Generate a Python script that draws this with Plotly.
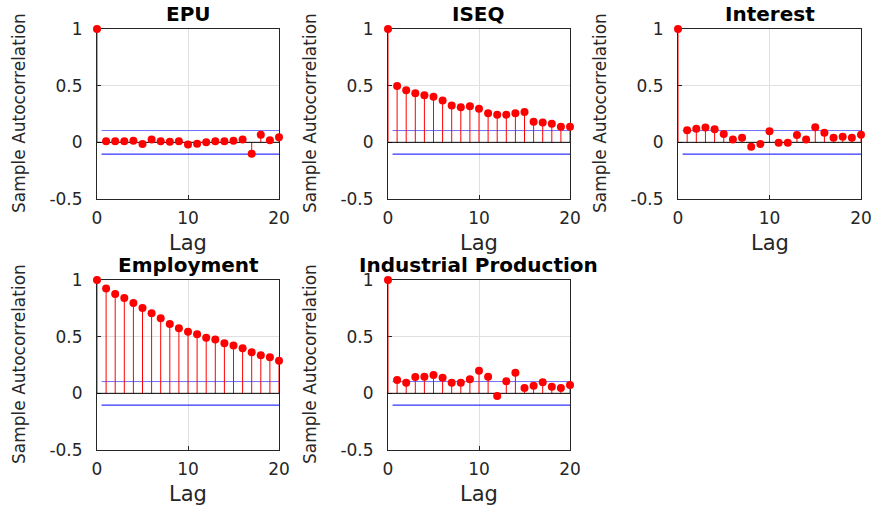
import plotly.graph_objects as go

lags = list(range(21))
titles = ["EPU", "ISEQ", "Interest", "Employment", "Industrial Production"]
epu = [1.0, 0.01, 0.01, 0.01, 0.015, -0.015, 0.025, 0.01, 0.005, 0.01, -0.02,
       -0.012, 0.0, 0.01, 0.01, 0.015, 0.025, -0.1, 0.068, 0.018, 0.045]
iseq = [1.0, 0.497, 0.459, 0.432, 0.415, 0.403, 0.37, 0.326, 0.309, 0.318, 0.297,
        0.256, 0.244, 0.244, 0.256, 0.268, 0.182, 0.176, 0.165, 0.138, 0.138]
interest = [1.0, 0.106, 0.12, 0.13, 0.115, 0.074, 0.026, 0.041, -0.038, -0.015, 0.097,
            -0.003, -0.003, 0.065, 0.024, 0.132, 0.085, 0.041, 0.05, 0.041, 0.068]
employment = [1.0, 0.924, 0.876, 0.841, 0.797, 0.753, 0.706, 0.662, 0.612, 0.574, 0.544,
              0.521, 0.491, 0.476, 0.441, 0.421, 0.397, 0.362, 0.335, 0.318, 0.288]
indprod = [1.0, 0.118, 0.094, 0.144, 0.147, 0.162, 0.138, 0.094, 0.094, 0.124, 0.2,
           0.147, -0.024, 0.106, 0.182, 0.047, 0.068, 0.097, 0.059, 0.047, 0.074]
bounds = [0.104, 0.104, 0.104, 0.104, 0.104]
xticks = [0, 10, 20]
yticks = [-0.5, 0, 0.5, 1]
ytick_text = ["-0.5", "0", "0.5", "1"]

series = [epu, iseq, interest, employment, indprod]

W, H = 877, 509
# panel boxes in pixels (left, right, top, bottom)
cols = [(97, 279), (388, 570), (678, 861)]
rows = [(29, 199), (280, 450)]
boxes = [(cols[0], rows[0]), (cols[1], rows[0]), (cols[2], rows[0]),
         (cols[0], rows[1]), (cols[1], rows[1])]

FONT = "DejaVu Sans"
fig = go.Figure()
annotations = []
layout = {}

for i, (vals, title, b) in enumerate(zip(series, titles, bounds)):
    n = "" if i == 0 else str(i + 1)
    xr, yr = "x" + n, "y" + n
    (l, r), (t, btm) = boxes[i]
    # bounds
    fig.add_trace(go.Scatter(x=[0.5, 20], y=[b, b], mode="lines",
                             line=dict(color="rgb(110,110,255)", width=1),
                             xaxis=xr, yaxis=yr, showlegend=False, hoverinfo="skip"))
    fig.add_trace(go.Scatter(x=[0.5, 20], y=[-b, -b], mode="lines",
                             line=dict(color="rgb(0,0,255)", width=1),
                             xaxis=xr, yaxis=yr, showlegend=False, hoverinfo="skip"))
    # stems
    sx, sy = [], []
    for lg, v in zip(lags, vals):
        sx += [lg, lg, None]
        sy += [0, v, None]
    fig.add_trace(go.Scatter(x=sx, y=sy, mode="lines",
                             line=dict(color="#ff0000", width=1),
                             xaxis=xr, yaxis=yr, showlegend=False, hoverinfo="skip"))
    # zero line
    fig.add_trace(go.Scatter(x=[0, 20], y=[0, 0], mode="lines",
                             line=dict(color="black", width=1),
                             xaxis=xr, yaxis=yr, showlegend=False, hoverinfo="skip"))
    # markers
    fig.add_trace(go.Scatter(x=lags, y=vals, mode="markers", cliponaxis=False,
                             marker=dict(color="#ff0000", size=8, line=dict(width=0)),
                             xaxis=xr, yaxis=yr, showlegend=False))

    axcommon = dict(showline=True, mirror=True, linecolor="#262626", linewidth=1,
                    ticks="inside", ticklen=4, tickcolor="#262626",
                    showgrid=True, gridcolor="#e0e0e0", gridwidth=1,
                    zeroline=False, layer="below traces", automargin=False,
                    tickfont=dict(family=FONT, size=17, color="#262626"))
    layout["xaxis" + n] = dict(axcommon, domain=[l / W, r / W], range=[0, 20],
                               tickvals=xticks, anchor=yr, ticklabelstandoff=4)
    layout["yaxis" + n] = dict(axcommon, domain=[1 - btm / H, 1 - t / H], range=[-0.5, 1],
                               tickvals=yticks, ticktext=ytick_text, anchor=xr,
                               ticklabelstandoff=10)
    cx = (l + r) / 2
    annotations.append(dict(text="<b>%s</b>" % title, x=cx / W, y=1 - (t - 15) / H,
                            xref="paper", yref="paper", xanchor="center", yanchor="middle",
                            showarrow=False, font=dict(family=FONT, size=20, color="black")))
    annotations.append(dict(text="Lag", x=cx / W, y=1 - (btm + 44) / H,
                            xref="paper", yref="paper", xanchor="center", yanchor="middle",
                            showarrow=False, font=dict(family=FONT, size=21, color="#262626")))
    annotations.append(dict(text="Sample Autocorrelation", x=(l - 78) / W, y=1 - ((t + btm) / 2 - 1) / H,
                            xref="paper", yref="paper", xanchor="center", yanchor="middle",
                            textangle=-90, showarrow=False,
                            font=dict(family=FONT, size=17, color="#262626")))

fig.update_layout(width=W, height=H, margin=dict(l=0, r=0, t=0, b=0, autoexpand=False),
                  paper_bgcolor="white", plot_bgcolor="white",
                  annotations=annotations, showlegend=False, **layout)
fig.write_html("out.html", config={"displayModeBar": False},
               post_script="document.body.style.margin='0px';document.body.style.padding='0px';document.body.style.overflow='hidden';")
